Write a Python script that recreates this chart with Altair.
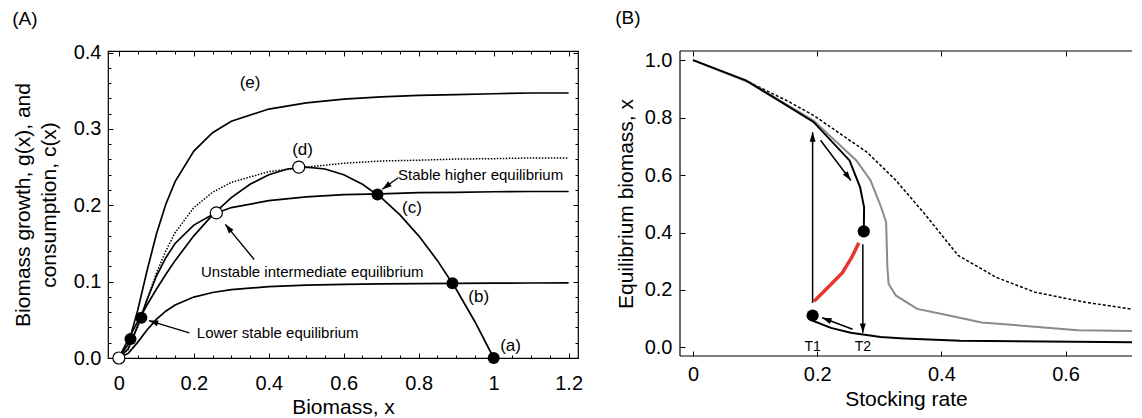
import math
import altair as alt
import pandas as pd

FONT = "Liberation Sans"

# ---------------- Panel A data ----------------
xa = [0, 0.025, 0.05, 0.075, 0.1, 0.125, 0.15, 0.2, 0.25, 0.3, 0.4, 0.5, 0.6, 0.7, 0.8, 0.9, 1.0, 1.1, 1.2]
cons_e = [0, 0.018, 0.062, 0.114, 0.162, 0.201, 0.231, 0.271, 0.295, 0.310, 0.326, 0.334, 0.339, 0.342, 0.344, 0.345, 0.346, 0.347, 0.347]
cons_d = [0, 0.011, 0.040, 0.076, 0.111, 0.140, 0.164, 0.197, 0.217, 0.230, 0.244, 0.250, 0.255, 0.258, 0.259, 0.2605, 0.261, 0.262, 0.262]
cons_c = [0, 0.012, 0.042, 0.076, 0.107, 0.131, 0.150, 0.174, 0.188, 0.197, 0.206, 0.211, 0.214, 0.215, 0.2165, 0.217, 0.2177, 0.218, 0.218]
cons_b = [0, 0.006, 0.0205, 0.0366, 0.0505, 0.0613, 0.0694, 0.0798, 0.0858, 0.0895, 0.0934, 0.0953, 0.0964, 0.0971, 0.0975, 0.0978, 0.098, 0.0982, 0.0983]
xg = [0, 0.025, 0.05, 0.075, 0.1, 0.125, 0.15, 0.2, 0.25, 0.3, 0.35, 0.4, 0.45, 0.5,
      0.55, 0.6, 0.65, 0.7, 0.75, 0.8, 0.85, 0.9, 0.95, 1.0]
growth = [0, 0.0244, 0.0475, 0.0694, 0.09, 0.1094, 0.1275, 0.16, 0.1875, 0.21, 0.2275, 0.24, 0.2475, 0.25,
          0.2475, 0.24, 0.2275, 0.21, 0.1875, 0.16, 0.1275, 0.09, 0.0475, 0]

open_x = [0.0, 0.26, 0.48]
open_y = [0.0, 0.19, 0.25]
filled_x = [0.031, 0.06, 0.69, 0.89, 1.0]
filled_y = [0.025, 0.0526, 0.214, 0.098, 0.0]

curve_labels = ["(e)", "(d)", "(c)", "(b)", "(a)"]
curve_label_x = [0.35, 0.49, 0.782, 0.96, 1.045]
curve_label_y = [0.36, 0.272, 0.196, 0.08, 0.0155]

note_text = ["Stable higher equilibrium", "Unstable intermediate equilibrium", "Lower stable equilibrium"]
note_x = [0.745, 0.516, 0.208]
note_y = [0.239, 0.113, 0.033]
note_align = ["left", "center", "left"]

arrA_x0 = [0.745, 0.361, 0.188]
arrA_y0 = [0.236, 0.129, 0.033]
arrA_x1 = [0.703, 0.284, 0.080]
arrA_y1 = [0.221, 0.175, 0.049]

# axis ticks of panel A
a_x_major = [0, 0.2, 0.4, 0.6, 0.8, 1.0, 1.2]
a_x_minor = [0.05, 0.1, 0.15, 0.25, 0.3, 0.35, 0.45, 0.5, 0.55, 0.65, 0.7, 0.75,
             0.85, 0.9, 0.95, 1.05, 1.1, 1.15]
a_y_major = [0, 0.1, 0.2, 0.3, 0.4]
a_y_minor = [0.02, 0.04, 0.06, 0.08, 0.12, 0.14, 0.16, 0.18, 0.22, 0.24, 0.26, 0.28,
             0.32, 0.34, 0.36, 0.38]

# ---------------- Panel B data ----------------
dash_x = [0, 0.09, 0.153, 0.194, 0.28, 0.327, 0.373, 0.427, 0.488, 0.551, 0.632, 0.723]
dash_y = [1.0, 0.924, 0.857, 0.808, 0.68, 0.581, 0.465, 0.32, 0.244, 0.192, 0.157, 0.128]
gray_x = [0, 0.093, 0.194, 0.263, 0.286, 0.303, 0.311, 0.313, 0.315, 0.327, 0.361, 0.401, 0.465, 0.62, 0.723]
gray_y = [1.0, 0.92, 0.79, 0.651, 0.581, 0.488, 0.436, 0.279, 0.221, 0.18, 0.134, 0.116, 0.087, 0.06, 0.056]
upper_x = [0, 0.085, 0.194, 0.252, 0.269, 0.2755, 0.275]
upper_y = [1.0, 0.93, 0.785, 0.651, 0.558, 0.488, 0.405]
red_x = [0.195, 0.218, 0.2406, 0.256, 0.267]
red_y = [0.161, 0.21, 0.26, 0.315, 0.364]
lower_x = [0.1926, 0.194, 0.222, 0.254, 0.302, 0.34, 0.43, 0.723]
lower_y = [0.111, 0.092, 0.068, 0.051, 0.036, 0.031, 0.023, 0.018]

dotB_x = [0.1926, 0.275]
dotB_y = [0.111, 0.404]

arrB_x0 = [0.1926, 0.2735, 0.2053, 0.257]
arrB_y0 = [0.155, 0.359, 0.721, 0.063]
arrB_x1 = [0.1926, 0.2735, 0.2543, 0.208]
arrB_y1 = [0.749, 0.051, 0.581, 0.103]

t_labels = ["T1", "T2"]
t_x = [0.1926, 0.2735]
t_y = [0.0, 0.0]

b_x_major = [0, 0.2, 0.4, 0.6]
b_y_major = [0, 0.2, 0.4, 0.6, 0.8, 1.0]

# ---------------- layout ----------------
WA, HA = 470, 307
XA_DOM = [-0.029, 1.225]
YA_DOM = [0.0, 0.402]
WB, HB = 452, 305
XB_DOM = [-0.021, 0.707]
YB_DOM = [-0.030, 1.032]

ARROW = "M0,0 L-0.32,1 L0.32,1 Z"

SXA = alt.Scale(domain=XA_DOM, nice=False, zero=False)
SYA = alt.Scale(domain=YA_DOM, nice=False, zero=False)
SXB = alt.Scale(domain=XB_DOM, nice=False, zero=False)
SYB = alt.Scale(domain=YB_DOM, nice=False, zero=False)


def arrows(x0, y0, x1, y1, w, h, xd, yd):
    sx = w / (xd[1] - xd[0])
    sy = h / (yd[1] - yd[0])
    segs, heads = [], []
    for a, b, c, d in zip(x0, y0, x1, y1):
        ang = math.degrees(math.atan2((c - a) * sx, (d - b) * sy)) % 360
        segs.append(dict(x=a, y=b, x2=c, y2=d))
        heads.append(dict(x=c, y=d, angle=ang))
    return pd.DataFrame(segs), pd.DataFrame(heads)


def tick_layer(sx, sy, xorient, yorient, xvals, yvals, size):
    df = pd.DataFrame(dict(x=[0.0], y=[0.0]))
    enc = {}
    if xvals:
        enc["x"] = alt.X("x:Q", scale=sx, title="",
                         axis=alt.Axis(orient=xorient, values=xvals, labels=False, domain=False,
                                       tickSize=size, offset=-size, title=""))
    else:
        enc["x"] = alt.X("x:Q", scale=sx, axis=None)
    if yvals:
        enc["y"] = alt.Y("y:Q", scale=sy, title="",
                         axis=alt.Axis(orient=yorient, values=yvals, labels=False, domain=False,
                                       tickSize=size, offset=-size, title=""))
    else:
        enc["y"] = alt.Y("y:Q", scale=sy, axis=None)
    return alt.Chart(df).mark_point(opacity=0).encode(**enc)


# ---------------- Panel A ----------------
XA = alt.X("x:Q", scale=SXA,
           axis=alt.Axis(values=a_x_major, format="~g", offset=-5, domain=False,
                         labelPadding=15, titlePadding=3),
           title="Biomass, x")
YA = alt.Y("y:Q", scale=SYA,
           axis=alt.Axis(values=a_y_major, format=".1f", offset=-5, domain=False,
                         labelPadding=7, titlePadding=14, titleLineHeight=26),
           title=["Biomass growth, g(x), and", "consumption, c(x)"])

rows = []
for name, ys in [("e", cons_e), ("c", cons_c), ("b", cons_b)]:
    for i, (xv, yv) in enumerate(zip(xa, ys)):
        rows.append(dict(s=name, i=i, x=xv, y=yv))
for i, (xv, yv) in enumerate(zip(xg, growth)):
    rows.append(dict(s="g", i=i, x=xv, y=yv))
solidA = pd.DataFrame(rows)
dotA = pd.DataFrame(dict(x=xa, y=cons_d))

lA_solid = alt.Chart(solidA).mark_line(color="black", strokeWidth=1.7).encode(
    x=XA, y=YA, detail="s:N", order="i:Q")
lA_dot = alt.Chart(dotA).mark_line(color="black", strokeWidth=1.5, strokeDash=[1.5, 1.5]).encode(x=XA, y=YA)

segA, headA = arrows(arrA_x0, arrA_y0, arrA_x1, arrA_y1, WA, HA, XA_DOM, YA_DOM)
aA_seg = alt.Chart(segA).mark_rule(color="black", strokeWidth=1.4).encode(x=XA, y=YA, x2="x2:Q", y2="y2:Q")
aA_head = alt.Chart(headA).mark_point(shape=ARROW, filled=True, color="black", opacity=1, size=350,
                                      strokeWidth=0).encode(
    x=XA, y=YA, angle=alt.Angle("angle:Q", scale=None))

pA_open = alt.Chart(pd.DataFrame(dict(x=open_x, y=open_y))).mark_point(
    shape="circle", filled=True, fill="white", stroke="black", strokeWidth=1.2, opacity=1, size=145).encode(x=XA, y=YA)
pA_fill = alt.Chart(pd.DataFrame(dict(x=filled_x, y=filled_y))).mark_point(
    shape="circle", filled=True, color="black", opacity=1, size=145).encode(x=XA, y=YA)

tA_lab = alt.Chart(pd.DataFrame(dict(x=curve_label_x, y=curve_label_y, t=curve_labels))).mark_text(
    font=FONT, fontSize=17, color="black", baseline="middle", align="center").encode(x=XA, y=YA, text="t:N")

noteA = pd.DataFrame(dict(x=note_x, y=note_y, t=note_text, a=note_align))
tA_notes = []
for al in ["left", "center"]:
    tA_notes.append(alt.Chart(noteA[noteA.a == al]).mark_text(
        font=FONT, fontSize=15, color="black", baseline="middle", align=al).encode(x=XA, y=YA, text="t:N"))

mainA = alt.layer(lA_solid, lA_dot, aA_seg, aA_head, pA_open, pA_fill, tA_lab, *tA_notes)

panelA = alt.layer(
    mainA,
    tick_layer(SXA, SYA, "top", "right", a_x_major, a_y_major, 5),
    tick_layer(SXA, SYA, "bottom", "left", a_x_minor, a_y_minor, 3),
    tick_layer(SXA, SYA, "top", "right", a_x_minor, a_y_minor, 3),
).resolve_axis(x="independent", y="independent").properties(
    width=WA, height=HA,
    title=alt.TitleParams("(A)", anchor="start", frame="bounds", font=FONT, fontSize=19,
                          fontWeight="normal", color="black", offset=14),
    view=alt.ViewConfig(stroke="black", strokeWidth=1.2))

# ---------------- Panel B ----------------
XB = alt.X("x:Q", scale=SXB,
           axis=alt.Axis(values=b_x_major, format="~g", offset=-5, domain=False,
                         labelPadding=8, titlePadding=4),
           title="Stocking rate")
YB = alt.Y("y:Q", scale=SYB,
           axis=alt.Axis(values=b_y_major, format=".1f", offset=-5, domain=False,
                         labelPadding=8, titlePadding=8),
           title="Equilibrium biomass, x")


def line_df(xs, ys):
    return pd.DataFrame(dict(x=xs, y=ys, i=list(range(len(xs)))))


lB_dash = alt.Chart(line_df(dash_x, dash_y)).mark_line(color="black", strokeWidth=1.5, strokeDash=[3, 2],
                                                      clip=True).encode(x=XB, y=YB, order="i:Q")
lB_gray = alt.Chart(line_df(gray_x, gray_y)).mark_line(color="#8a8a8a", strokeWidth=2, clip=True).encode(
    x=XB, y=YB, order="i:Q")
lB_up = alt.Chart(line_df(upper_x, upper_y)).mark_line(color="black", strokeWidth=2, clip=True).encode(
    x=XB, y=YB, order="i:Q")
lB_low = alt.Chart(line_df(lower_x, lower_y)).mark_line(color="black", strokeWidth=2, clip=True).encode(
    x=XB, y=YB, order="i:Q")
lB_red = alt.Chart(line_df(red_x, red_y)).mark_line(color="#e8352e", strokeWidth=3.5, clip=True).encode(
    x=XB, y=YB, order="i:Q")

segB, headB = arrows(arrB_x0, arrB_y0, arrB_x1, arrB_y1, WB, HB, XB_DOM, YB_DOM)
aB_seg = alt.Chart(segB).mark_rule(color="black", strokeWidth=1.5).encode(x=XB, y=YB, x2="x2:Q", y2="y2:Q")
aB_head = alt.Chart(headB).mark_point(shape=ARROW, filled=True, color="black", opacity=1, size=350,
                                      strokeWidth=0).encode(
    x=XB, y=YB, angle=alt.Angle("angle:Q", scale=None))

pB = alt.Chart(pd.DataFrame(dict(x=dotB_x, y=dotB_y))).mark_point(
    shape="circle", filled=True, color="black", opacity=1, size=150).encode(x=XB, y=YB)

tB = alt.Chart(pd.DataFrame(dict(x=t_x, y=t_y, t=t_labels))).mark_text(
    font=FONT, fontSize=14, color="black", baseline="middle", align="center").encode(x=XB, y=YB, text="t:N")

frame_df = pd.DataFrame(dict(k=[0]))
topB = alt.Chart(frame_df).mark_rule(color="black", strokeWidth=1.2).encode(
    x=alt.value(0), x2=alt.value(WB), y=alt.value(0))
botB = alt.Chart(frame_df).mark_rule(color="black", strokeWidth=1.2).encode(
    x=alt.value(0), x2=alt.value(WB), y=alt.value(HB))
leftB = alt.Chart(frame_df).mark_rule(color="black", strokeWidth=1.2).encode(
    x=alt.value(0), y=alt.value(0), y2=alt.value(HB))

mainB = alt.layer(lB_dash, lB_gray, lB_up, lB_low, lB_red, aB_seg, aB_head, pB, tB, topB, botB, leftB)

panelB = alt.layer(
    mainB,
    tick_layer(SXB, SYB, "top", "right", b_x_major, None, 5),
).resolve_axis(x="independent", y="independent").properties(
    width=WB, height=HB,
    title=alt.TitleParams("(B)", anchor="start", frame="bounds", font=FONT, fontSize=19,
                          fontWeight="normal", color="black", offset=22),
    view=alt.ViewConfig(stroke="transparent"))

chart = alt.hconcat(panelA, panelB, spacing=30).properties(
    padding={"left": 3, "top": 0, "right": 0, "bottom": 0}
).configure_axis(
    labelFont=FONT, titleFont=FONT, labelFontSize=20, titleFontSize=21, titleFontWeight="normal",
    labelColor="black", titleColor="black", tickColor="black",
    tickSize=5, tickWidth=1, grid=False
).configure_view(stroke="black", strokeWidth=1.2)

chart.save("out.html", embed_options={"renderer": "svg", "actions": False})
